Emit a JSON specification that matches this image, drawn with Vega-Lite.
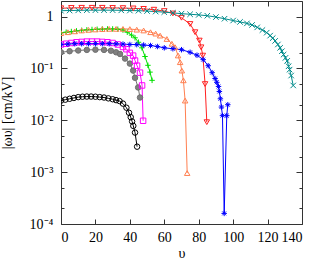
{
  "$schema": "https://vega.github.io/schema/vega-lite/v6.json",
  "width": 241,
  "height": 223,
  "autosize": "none",
  "padding": {"left": 61, "top": 1, "right": 12, "bottom": 38},
  "config": {
    "view": {"stroke": "#333333", "strokeWidth": 1},
    "font": "Liberation Serif",
    "axis": {
      "labelFont": "Liberation Serif", "labelFontSize": 14, "labelColor": "#000000",
      "titleFont": "Liberation Serif", "titleFontSize": 14, "titleFontWeight": "normal", "titleColor": "#000000",
      "domain": false, "grid": false, "tickColor": "#333333", "tickWidth": 1
    }
  },
  "data": {"values": [
    {"s":"a","x":0,"y":0.024},{"s":"a","x":2.5,"y":0.025},{"s":"a","x":5,"y":0.026},{"s":"a","x":7.5,"y":0.027},{"s":"a","x":10,"y":0.028},{"s":"a","x":12.5,"y":0.0285},{"s":"a","x":15,"y":0.0287},{"s":"a","x":17.5,"y":0.0287},{"s":"a","x":20,"y":0.0285},{"s":"a","x":22.5,"y":0.028},{"s":"a","x":25,"y":0.0275},{"s":"a","x":27.5,"y":0.0265},{"s":"a","x":30,"y":0.0255},{"s":"a","x":32,"y":0.0245},{"s":"a","x":34,"y":0.0235},{"s":"a","x":36,"y":0.021},{"s":"a","x":38,"y":0.0175},{"s":"a","x":39.5,"y":0.014},{"s":"a","x":40.5,"y":0.0115},{"s":"a","x":41.3,"y":0.0095},{"s":"a","x":42,"y":0.0078},{"s":"a","x":43,"y":0.0058},{"s":"a","x":44.2,"y":0.0031},
    {"s":"b","x":0,"y":0.205},{"s":"b","x":5,"y":0.215},{"s":"b","x":10,"y":0.222},{"s":"b","x":15,"y":0.228},{"s":"b","x":20,"y":0.23},{"s":"b","x":25,"y":0.228},{"s":"b","x":29,"y":0.22},{"s":"b","x":32,"y":0.205},{"s":"b","x":34.3,"y":0.19},{"s":"b","x":37.2,"y":0.155},{"s":"b","x":40,"y":0.124},{"s":"b","x":41.9,"y":0.091},{"s":"b","x":43,"y":0.066},{"s":"b","x":44.8,"y":0.043},{"s":"b","x":45.9,"y":0.0275},
    {"s":"c","x":0,"y":0.29},{"s":"c","x":3,"y":0.3},{"s":"c","x":6,"y":0.31},{"s":"c","x":9,"y":0.32},{"s":"c","x":12,"y":0.325},{"s":"c","x":15,"y":0.33},{"s":"c","x":18,"y":0.33},{"s":"c","x":21,"y":0.33},{"s":"c","x":24,"y":0.325},{"s":"c","x":27,"y":0.32},{"s":"c","x":30,"y":0.31},{"s":"c","x":33,"y":0.29},{"s":"c","x":36,"y":0.26},{"s":"c","x":38,"y":0.235},{"s":"c","x":40,"y":0.2},{"s":"c","x":41.9,"y":0.177},{"s":"c","x":43,"y":0.142},{"s":"c","x":44.2,"y":0.113},{"s":"c","x":45.9,"y":0.083},{"s":"c","x":47.1,"y":0.047},{"s":"c","x":47.7,"y":0.0098},
    {"s":"d","x":0,"y":0.49},{"s":"d","x":3,"y":0.5},{"s":"d","x":6,"y":0.515},{"s":"d","x":9,"y":0.53},{"s":"d","x":12,"y":0.545},{"s":"d","x":15,"y":0.555},{"s":"d","x":18,"y":0.565},{"s":"d","x":21,"y":0.57},{"s":"d","x":24,"y":0.575},{"s":"d","x":27,"y":0.578},{"s":"d","x":30,"y":0.578},{"s":"d","x":33,"y":0.57},{"s":"d","x":36,"y":0.55},{"s":"d","x":38.5,"y":0.5},{"s":"d","x":41,"y":0.44},{"s":"d","x":43,"y":0.39},{"s":"d","x":45,"y":0.32},{"s":"d","x":47,"y":0.25},{"s":"d","x":48.8,"y":0.17},{"s":"d","x":50.5,"y":0.115},{"s":"d","x":51.7,"y":0.085},{"s":"d","x":52.9,"y":0.059},
    {"s":"e","x":0,"y":0.48},{"s":"e","x":4,"y":0.5},{"s":"e","x":8,"y":0.52},{"s":"e","x":12,"y":0.54},{"s":"e","x":16,"y":0.555},{"s":"e","x":20,"y":0.565},{"s":"e","x":24,"y":0.575},{"s":"e","x":28,"y":0.58},{"s":"e","x":32,"y":0.58},{"s":"e","x":36,"y":0.58},{"s":"e","x":40,"y":0.575},{"s":"e","x":44,"y":0.56},{"s":"e","x":48,"y":0.54},{"s":"e","x":52,"y":0.5},{"s":"e","x":55,"y":0.47},{"s":"e","x":57.6,"y":0.43},{"s":"e","x":61.5,"y":0.37},{"s":"e","x":64.4,"y":0.3},{"s":"e","x":66.3,"y":0.257},{"s":"e","x":68,"y":0.178},{"s":"e","x":69.2,"y":0.132},{"s":"e","x":70.2,"y":0.091},{"s":"e","x":71.1,"y":0.059},{"s":"e","x":72.1,"y":0.024},{"s":"e","x":73.3,"y":0.00096},
    {"s":"f","x":0,"y":1.45},{"s":"f","x":6,"y":1.47},{"s":"f","x":12,"y":1.48},{"s":"f","x":18,"y":1.48},{"s":"f","x":24,"y":1.48},{"s":"f","x":30,"y":1.47},{"s":"f","x":36,"y":1.46},{"s":"f","x":42,"y":1.44},{"s":"f","x":48,"y":1.41},{"s":"f","x":54,"y":1.36},{"s":"f","x":60,"y":1.28},{"s":"f","x":65,"y":1.15},{"s":"f","x":70,"y":0.95},{"s":"f","x":75,"y":0.72},{"s":"f","x":77.9,"y":0.5},{"s":"f","x":80.4,"y":0.345},{"s":"f","x":81.4,"y":0.256},{"s":"f","x":82.4,"y":0.177},{"s":"f","x":83.7,"y":0.05},{"s":"f","x":84.7,"y":0.0092},
    {"s":"g","x":0,"y":0.29},{"s":"g","x":4,"y":0.295},{"s":"g","x":8,"y":0.3},{"s":"g","x":12,"y":0.3},{"s":"g","x":16,"y":0.3},{"s":"g","x":20,"y":0.3},{"s":"g","x":24,"y":0.3},{"s":"g","x":28,"y":0.3},{"s":"g","x":32,"y":0.298},{"s":"g","x":36,"y":0.295},{"s":"g","x":40,"y":0.29},{"s":"g","x":44,"y":0.288},{"s":"g","x":48,"y":0.283},{"s":"g","x":52,"y":0.277},{"s":"g","x":56,"y":0.265},{"s":"g","x":60,"y":0.25},{"s":"g","x":65,"y":0.24},{"s":"g","x":70,"y":0.23},{"s":"g","x":75,"y":0.205},{"s":"g","x":79,"y":0.18},{"s":"g","x":82.6,"y":0.148},{"s":"g","x":85.5,"y":0.113},{"s":"g","x":87.8,"y":0.083},{"s":"g","x":89.5,"y":0.064},{"s":"g","x":90.5,"y":0.054},{"s":"g","x":91.5,"y":0.045},{"s":"g","x":92,"y":0.036},{"s":"g","x":92.6,"y":0.026},{"s":"g","x":93.2,"y":0.018},{"s":"g","x":93.8,"y":0.0123},{"s":"g","x":94.8,"y":0.00016},{"s":"g","x":96.3,"y":0.0123},{"s":"g","x":96.9,"y":0.02},
    {"s":"h","x":0,"y":1.3},{"s":"h","x":5,"y":1.31},{"s":"h","x":10,"y":1.32},{"s":"h","x":15,"y":1.33},{"s":"h","x":20,"y":1.33},{"s":"h","x":25,"y":1.33},{"s":"h","x":30,"y":1.33},{"s":"h","x":35,"y":1.32},{"s":"h","x":40,"y":1.31},{"s":"h","x":45,"y":1.3},{"s":"h","x":50,"y":1.28},{"s":"h","x":55,"y":1.25},{"s":"h","x":60,"y":1.22},{"s":"h","x":65,"y":1.18},{"s":"h","x":70,"y":1.14},{"s":"h","x":75,"y":1.11},{"s":"h","x":80,"y":1.08},{"s":"h","x":85,"y":1.04},{"s":"h","x":90,"y":0.98},{"s":"h","x":95,"y":0.91},{"s":"h","x":100,"y":0.84},{"s":"h","x":104,"y":0.79},{"s":"h","x":108,"y":0.74},{"s":"h","x":111,"y":0.69},{"s":"h","x":114,"y":0.62},{"s":"h","x":117,"y":0.55},{"s":"h","x":119.5,"y":0.49},{"s":"h","x":121.5,"y":0.43},{"s":"h","x":123,"y":0.385},{"s":"h","x":124.4,"y":0.34},{"s":"h","x":126,"y":0.29},{"s":"h","x":127.3,"y":0.25},{"s":"h","x":128.3,"y":0.215},{"s":"h","x":129.3,"y":0.185},{"s":"h","x":130.4,"y":0.16},{"s":"h","x":131.4,"y":0.14},{"s":"h","x":132.2,"y":0.11},{"s":"h","x":132.8,"y":0.095},{"s":"h","x":133.7,"y":0.073},{"s":"h","x":134.9,"y":0.047}
  ]},
  "resolve": {"axis": {"x": "independent", "y": "independent"}},
  "layer": [
    {
      "mark": {"type": "line", "strokeWidth": 1, "clip": true},
      "encoding": {
        "x": {"field": "x", "type": "quantitative", "scale": {"domain": [0, 140], "nice": false, "zero": false},
          "axis": {"orient": "bottom", "values": [0,20,40,60,80,100,120,140], "tickSize": -5, "labelPadding": 11, "title": "υ", "titlePadding": 2}},
        "y": {"field": "y", "type": "quantitative", "scale": {"type": "log", "domain": [0.0001, 2], "nice": false},
          "axis": {"orient": "left", "values": [0.0001,0.0002,0.0005,0.001,0.002,0.005,0.01,0.02,0.05,0.1,0.2,0.5,1],
            "tickSize": {"condition": {"test": "datum.value == 1 || datum.value == 0.1 || datum.value == 0.01 || datum.value == 0.001 || datum.value == 0.0001", "value": -6}, "value": -3},
            "labelExpr": "datum.value == 1 ? '1' : datum.value == 0.1 ? '10⁻¹' : datum.value == 0.01 ? '10⁻²' : datum.value == 0.001 ? '10⁻³' : datum.value == 0.0001 ? '10⁻⁴' : ''",
            "labelPadding": 14, "title": "|ωυ| [cm/kV]", "titlePadding": 15}},
        "color": {"field": "s", "type": "nominal", "legend": null,
          "scale": {"domain": ["a","b","c","d","e","f","g","h"], "range": ["#000000","#707070","#ff00ff","#00e000","#ff7f50","#ff2020","#0000ff","#008b8b"]}},
        "detail": {"field": "s"}
      }
    },
    {
      "mark": {"type": "point", "strokeWidth": 1, "size": 30, "clip": true, "opacity": 1},
      "encoding": {
        "x": {"field": "x", "type": "quantitative",
          "axis": {"orient": "top", "values": [0,20,40,60,80,100,120,140], "tickSize": -5, "labels": false, "title": null}},
        "y": {"field": "y", "type": "quantitative",
          "axis": {"orient": "right", "values": [0.0001,0.0002,0.0005,0.001,0.002,0.005,0.01,0.02,0.05,0.1,0.2,0.5,1],
            "tickSize": {"condition": {"test": "datum.value == 1 || datum.value == 0.1 || datum.value == 0.01 || datum.value == 0.001 || datum.value == 0.0001", "value": -6}, "value": -3},
            "labels": false, "title": null}},
        "shape": {"field": "s", "type": "nominal", "legend": null,
          "scale": {"domain": ["a","b","c","d","e","f","g","h"], "range": ["circle","circle","square","M-1,0H1M0,-1V1","triangle-up","triangle-down","M-1,0H1M0,-1V1M-0.7,-0.7L0.7,0.7M-0.7,0.7L0.7,-0.7","M-1,-1L1,1M-1,1L1,-1"]}},
        "stroke": {"field": "s", "type": "nominal", "legend": null,
          "scale": {"domain": ["a","b","c","d","e","f","g","h"], "range": ["#000000","#707070","#ff00ff","#00e000","#ff7f50","#ff2020","#0000ff","#008b8b"]}},
        "fill": {"field": "s", "type": "nominal", "legend": null,
          "scale": {"domain": ["a","b","c","d","e","f","g","h"], "range": ["transparent","#808080","transparent","transparent","transparent","transparent","transparent","transparent"]}}
      }
    }
  ]
}
